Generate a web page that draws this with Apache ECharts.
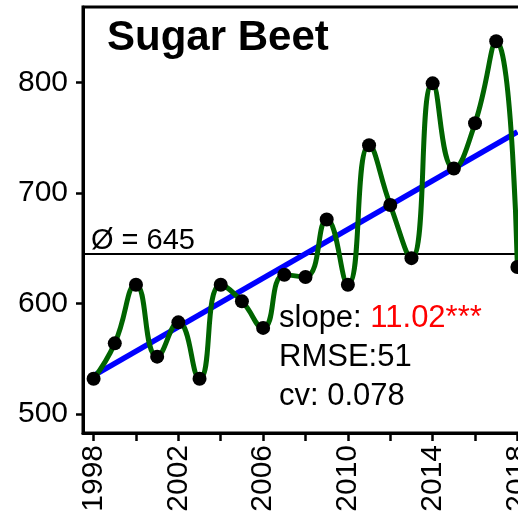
<!DOCTYPE html>
<html>
<head>
<meta charset="utf-8">
<script src="https://cdn.jsdelivr.net/npm/echarts@6/dist/echarts.min.js"></script>
<style>
html,body{margin:0;padding:0;background:#fff;}
#chart{width:518px;height:521px;}
</style>
</head>
<body>
<div id="chart"></div>
<script>
var years = ['1998','1999','2000','2001','2002','2003','2004','2005','2006','2007','2008','2009','2010','2011','2012','2013','2014','2015','2016','2017','2018'];
var yieldValues = [532, 564, 617, 552, 583, 532, 617, 602, 578, 626, 624, 676, 617, 743, 689, 641, 799, 722, 763, 837, 633];
var trendYears = ['1998', '2018'];
var trendValues = [534.8, 755.2];
var meanValue = 645;
var yTickValues = [500, 600, 700, 800];
var titleText = 'Sugar Beet';
var slopeLabel = 'slope: ';
var slopeValue = '11.02***';
var rmseText = 'RMSE:51';
var cvText = 'cv: 0.078';

var FONT = '"Liberation Sans", Arial, sans-serif';
var chart = echarts.init(document.getElementById('chart'), null, {renderer: 'canvas'});

var option = {
  animation: false,
  backgroundColor: '#ffffff',
  textStyle: {fontFamily: FONT, fontSize: 30},
  grid: {
    left: 83, top: 7, height: 426, width: 445,
    outerBoundsMode: 'none',
    containLabel: false,
    show: true, borderColor: '#000', borderWidth: 3, backgroundColor: 'transparent'
  },
  xAxis: {
    type: 'category',
    data: years,
    boundaryGap: true,
    axisLine: {show: true, lineStyle: {color: '#000', width: 3}},
    axisTick: {show: true, alignWithLabel: true, length: 8, lineStyle: {color: '#000', width: 2.5},
      interval: function (i) { return i % 2 === 0; }},
    axisLabel: {show: true, rotate: 90, margin: 12, color: '#000', fontSize: 30, fontFamily: FONT,
      hideOverlap: false,
      interval: function (i) { return i % 4 === 0; }},
    splitLine: {show: false}
  },
  yAxis: {
    type: 'value',
    min: 483, max: 868,
    axisLine: {show: true, lineStyle: {color: '#000', width: 3}},
    axisTick: {show: true, length: 7, lineStyle: {color: '#000', width: 2.5}, customValues: yTickValues},
    axisLabel: {show: true, margin: 15, color: '#000', fontSize: 30, fontFamily: FONT, customValues: yTickValues},
    splitLine: {show: false}
  },
  series: [
    {
      type: 'line',
      data: trendYears.map(function (y, i) { return [y, trendValues[i]]; }),
      symbol: 'none',
      lineStyle: {color: '#0000ff', width: 5.5},
      z: 2,
      markLine: {
        silent: true,
        symbol: 'none',
        label: {show: false},
        lineStyle: {color: '#000', width: 2, type: 'solid'},
        data: [{yAxis: meanValue}],
        z: 1
      }
    },
    {
      type: 'line',
      data: yieldValues,
      smooth: 0.5,
      symbol: 'none',
      lineStyle: {color: '#006400', width: 5},
      z: 3
    },
    {
      type: 'scatter',
      data: yieldValues,
      symbol: 'circle',
      symbolSize: 14,
      itemStyle: {color: '#000', opacity: 1},
      z: 4
    }
  ],
  graphic: [
    {type: 'text', left: 107, top: 17, style: {text: titleText, font: 'bold 42px ' + FONT, fill: '#000'}},
    {type: 'text', left: 91, top: 226, style: {text: 'Ø = ' + meanValue, font: '29px ' + FONT, fill: '#000'}},
    {type: 'text', left: 279, top: 303, style: {text: slopeLabel + '{r|' + slopeValue + '}', font: '31px ' + FONT, fill: '#000',
      rich: {r: {fill: '#ff0000', font: '31px ' + FONT}}}},
    {type: 'text', left: 279, top: 342, style: {text: rmseText, font: '31px ' + FONT, fill: '#000'}},
    {type: 'text', left: 279, top: 381, style: {text: cvText, font: '31px ' + FONT, fill: '#000'}}
  ]
};
chart.setOption(option);
</script>
</body>
</html>
